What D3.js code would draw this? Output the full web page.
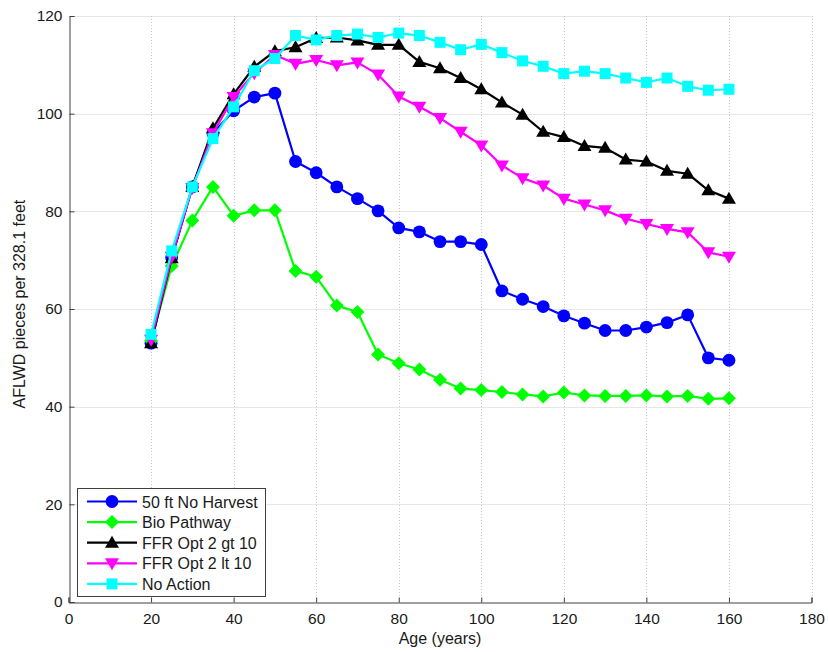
<!DOCTYPE html>
<html>
<head>
<meta charset="utf-8">
<script src="https://cdn.jsdelivr.net/npm/d3@7"></script>
<style>
  html, body { margin: 0; padding: 0; background: #fff; }
  svg { display: block; font-family: "Liberation Sans", Arial, sans-serif; }
</style>
</head>
<body>
<svg id="chart" width="828" height="652"></svg>
<script>
// Stand age (years)
const ages = [20,25,30,35,40,45,50,55,60,65,70,75,80,85,90,95,100,105,110,115,120,125,130,135,140,145,150,155,160];

// AFLWD pieces per 328.1 feet, by scenario
const noHarvest50 = [53,70.5,85,96,100.6,103.4,104.2,90.2,87.9,85,82.6,80.1,76.6,75.8,73.8,73.8,73.2,63.7,62,60.5,58.6,57.1,55.6,55.6,56.3,57.2,58.8,50,49.5];
const bioPathway  = [53.5,68.8,78.1,85,79.1,80.2,80.2,67.8,66.6,60.7,59.4,50.7,48.9,47.6,45.5,43.7,43.4,43,42.5,42.1,42.9,42.3,42.2,42.2,42.3,42.1,42.2,41.6,41.7];
const ffrGt10     = [53,70.4,85,97,104,109.6,112.8,113.6,115.5,115.6,115,114.1,114.1,110.6,109.3,107.3,105,102.3,99.8,96.3,95.2,93.4,93,90.6,90.2,88.3,87.7,84.3,82.6];
const ffrLt10     = [53.7,70.7,84.8,96,103.4,108.3,112,110.2,111,109.9,110.5,108,103.5,101.4,99.1,96.3,93.5,89.4,86.8,85.3,82.6,81.4,80.2,78.5,77.4,76.4,75.7,71.6,70.7];
const noAction    = [54.8,71.9,85,94.9,101.4,108.8,111.3,116,115.1,116,116.3,115.6,116.5,116,114.6,113.1,114.2,112.5,110.8,109.7,108.2,108.7,108.2,107.3,106.4,107.3,105.6,104.8,105];

const seriesNames  = ["50 ft No Harvest","Bio Pathway","FFR Opt 2 gt 10","FFR Opt 2 lt 10","No Action"];
const seriesValues = [noHarvest50, bioPathway, ffrGt10, ffrLt10, noAction];
const seriesColors = ["#0000ff","#00ff00","#000000","#ff00ff","#00ffff"];
const seriesMarkers = ["circle","diamond","up","down","square"];

const xTicks = [0,20,40,60,80,100,120,140,160,180];
const yTicks = [0,20,40,60,80,100,120];

const margin = {left: 68.5, right: 16, top: 16, bottom: 50};
const W = 828, H = 652;
const svg = d3.select("#chart");

const x = d3.scaleLinear().domain([0,180]).range([margin.left, W - margin.right - 0.5]);
const y = d3.scaleLinear().domain([0,120]).range([H - margin.bottom, margin.top]);

// grid
const grid = svg.append("g");
grid.selectAll("line.h").data(yTicks.slice(1)).join("line")
  .attr("x1", x(0)).attr("x2", x(180))
  .attr("y1", d => Math.round(y(d)) + 0.5).attr("y2", d => Math.round(y(d)) + 0.5)
  .attr("stroke", "#e6e6e6").attr("stroke-width", 1);
grid.selectAll("line.v").data(xTicks.slice(1)).join("line")
  .attr("y1", y(0)).attr("y2", y(120))
  .attr("x1", d => Math.round(x(d)) + 0.5).attr("x2", d => Math.round(x(d)) + 0.5)
  .attr("stroke", "#c8c8c8").attr("stroke-width", 1).attr("stroke-dasharray", "1,2");

// axes
const axisColor = "#404040";
const xAxis = svg.append("g")
  .attr("transform", `translate(0,${Math.round(y(0)) + 0.5})`)
  .call(d3.axisBottom(x).tickValues(xTicks).tickSize(-5).tickPadding(10).tickFormat(d3.format("d")));
const yAxis = svg.append("g")
  .attr("transform", `translate(${Math.round(x(0)) + 0.5},0)`)
  .call(d3.axisLeft(y).tickValues(yTicks).tickSize(-5).tickPadding(7).tickFormat(d3.format("d")));
[xAxis, yAxis].forEach(g => {
  g.select(".domain").attr("stroke", axisColor).attr("stroke-width", 1);
  g.selectAll(".tick line").attr("stroke", axisColor);
  g.selectAll(".tick text").attr("fill", "#1a1a1a").style("font-size", "15.5px")
    .style("font-family", "'Liberation Sans', Arial, sans-serif");
});

// axis titles
svg.append("text").attr("x", x(90)).attr("y", 644)
  .attr("text-anchor", "middle").attr("fill", "#1a1a1a").style("font-size", "16px")
  .text("Age (years)");
svg.append("text")
  .attr("transform", `translate(25,${y(61)}) rotate(-90)`)
  .attr("text-anchor", "middle").attr("fill", "#1a1a1a").style("font-size", "16px")
  .text("AFLWD pieces per 328.1 feet");

// marker paths
function markerPath(type) {
  switch (type) {
    case "circle": return d3.symbol(d3.symbolCircle, 130)();
    case "square": return "M-5.5,-5.5H5.5V5.5H-5.5Z";
    case "diamond": return "M0,-7L7,0L0,7L-7,0Z";
    case "up": return "M0,-7L7,5L-7,5Z";
    case "down": return "M0,7L7,-5L-7,-5Z";
  }
}

const line = d3.line().x((d, i) => x(ages[i])).y(d => y(d));
const plot = svg.append("g");
seriesValues.forEach((vals, k) => {
  const g = plot.append("g");
  g.append("path").datum(vals).attr("d", line)
    .attr("fill", "none").attr("stroke", seriesColors[k]).attr("stroke-width", 2.2)
    .attr("stroke-linejoin", "round");
  g.selectAll("path.m").data(vals).join("path")
    .attr("class", "m")
    .attr("transform", (d, i) => `translate(${x(ages[i])},${y(d)})`)
    .attr("d", markerPath(seriesMarkers[k]))
    .attr("fill", seriesColors[k]);
});

// legend
const lg = svg.append("g").attr("transform", "translate(77,488)");
lg.append("rect").attr("x", 0.5).attr("y", 0.5).attr("width", 188).attr("height", 108)
  .attr("fill", "#fff").attr("stroke", axisColor).attr("stroke-width", 1);
seriesNames.forEach((name, k) => {
  const cy = 13.5 + k * 20.6;
  lg.append("line").attr("x1", 10).attr("x2", 60).attr("y1", cy).attr("y2", cy)
    .attr("stroke", seriesColors[k]).attr("stroke-width", 2.2);
  lg.append("path").attr("transform", `translate(35,${cy})`)
    .attr("d", markerPath(seriesMarkers[k])).attr("fill", seriesColors[k]);
  lg.append("text").attr("x", 65).attr("y", cy + 6)
    .attr("fill", "#1a1a1a").style("font-size", "16px").text(name);
});
</script>
</body>
</html>
